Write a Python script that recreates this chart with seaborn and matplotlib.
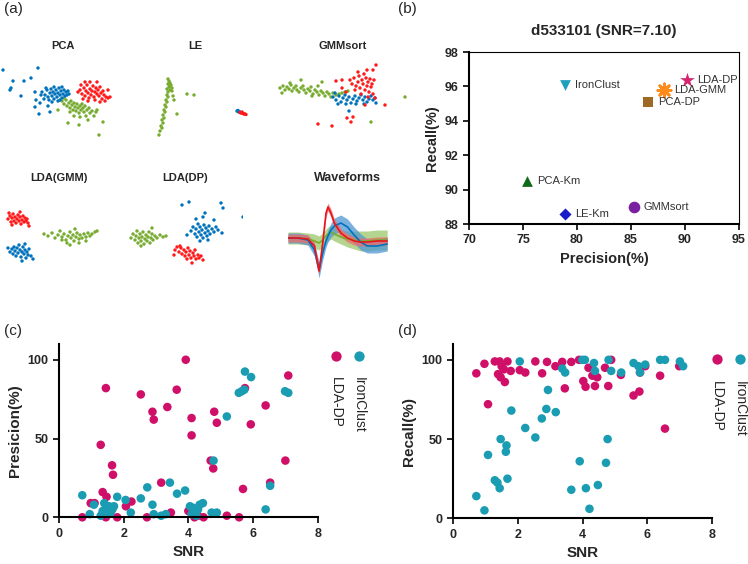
import pandas as pd
import matplotlib
matplotlib.use("Agg")
import matplotlib.pyplot as plt
import seaborn as sns

W, H = 748, 564

# ---------------- (a) feature-space clusters (reference pixel units) ----------------
pca_blue = [(42,92),(45,95),(47,90),(48,97),(50,93),(51,89),(52,96),(53,92),(54,99),(55,94),(56,90),
            (57,97),(58,93),(59,88),(60,95),(61,91),(62,98),(63,94),(64,90),(65,96),(66,92),(67,95),
            (68,91),(44,99),(49,100),(58,101),(46,88),(54,87),(62,87),(69,94),(41,95),(52,102),(60,100),
            (3,70),(38,68),(13,81),(24,81),(31,78),(10,90),(11,88),(21,96),(35,107),(39,114),(35,92),
            (50,112),(36,100),(40,103),(48,106)]
pca_red = [(80,90),(82,94),(84,88),(85,96),(86,91),(87,85),(88,93),(89,98),(90,89),(91,95),(92,91),
           (93,86),(94,97),(95,92),(96,88),(97,94),(98,90),(99,96),(100,87),(101,93),(102,99),(103,91),
           (104,95),(106,97),(108,98),(110,97),(83,99),(88,101),(95,100),(100,102),(105,101),(90,82),
           (97,82),(81,85),(78,92),(108,90),(85,82)]
pca_green = [(62,101),(64,104),(66,100),(67,106),(69,103),(70,108),(71,101),(72,105),(73,110),(74,103),
             (75,107),(76,111),(77,104),(78,108),(79,113),(80,106),(81,110),(82,104),(83,108),(84,112),
             (85,106),(87,110),(89,108),(90,113),(92,111),(94,116),(96,112),(70,112),(74,116),(80,117),
             (86,116),(68,123),(79,125),(99,135),(103,122),(58,110),(97,110),(88,120),(64,98)]

le_green = [(168,79),(169,81),(170,83),(168,84),(171,85),(169,87),(172,88),(170,90),(168,92),(167,95),
            (168,97),(166,100),(167,102),(165,105),(166,107),(164,110),(165,112),(163,115),(164,118),
            (162,120),(163,123),(161,126),(162,128),(160,131),(159,135),(170,86),(172,91),(167,89),
            (187,94),(194,95),(177,114),(173,96),(174,100)]
le_blue = [(237,111),(238,111.5),(239,112),(240,112),(238,110.5)]
le_red = [(240,112.5),(241,113),(242,113),(243,113.5),(244,114),(245,114),(246,114.5),(242,112)]

gmm_green = [(280,88),(283,86),(285,90),(287,87),(289,89),(291,85),(292,91),(294,88),(296,86),(297,90),
             (299,92),(301,88),(303,86),(304,90),(306,93),(308,89),(310,91),(311,87),(313,94),(315,90),
             (317,92),(319,95),(321,91),(323,93),(325,96),(327,92),(329,94),(331,97),(333,93),(336,95),
             (339,94),(342,93),(345,92),(348,91),(282,93),(301,80),(322,82),(405,97),(371,122),(290,83),
             (312,96),(318,86)]
gmm_blue = [(333,97),(336,100),(339,96),(341,102),(343,98),(345,95),(347,100),(349,97),(351,103),(353,99),
            (355,96),(357,101),(359,98),(361,95),(363,100),(365,97),(367,102),(369,99),(371,96),(373,100),
            (375,98),(376,103),(338,104),(346,104),(356,104),(364,104),(349,111),(335,93)]
gmm_red = [(350,80),(352,84),(354,78),(356,86),(358,82),(359,76),(360,88),(362,80),(363,84),(364,74),
           (365,90),(366,78),(367,86),(368,82),(369,92),(370,79),(371,87),(372,84),(373,94),(374,80),
           (355,90),(361,94),(368,97),(375,98),(346,92),(342,88),(376,65),(373,70),(336,81),(342,80),
           (385,105),(353,117),(347,118),(351,122),(318,124),(332,126),(365,105),(358,72),(367,70)]

ldag_red = [(8,219),(10,216),(11,222),(12,218),(13,214),(14,221),(15,217),(16,223),(17,219),(18,215),
            (19,221),(20,217),(21,224),(22,220),(23,216),(24,222),(25,218),(26,221),(27,219),(28,223),
            (9,213),(29,226),(12,225),(20,212)]
ldag_blue = [(10,252),(12,249),(13,254),(14,247),(15,251),(16,256),(17,248),(18,253),(19,245),(20,250),
             (21,257),(22,252),(23,247),(24,254),(25,250),(26,258),(27,252),(28,255),(29,249),(31,256),
             (33,259),(25,244),(8,248),(22,261)]
ldag_green = [(44,234),(48,236),(52,233),(55,238),(58,235),(60,231),(62,237),(64,234),(66,240),(68,236),
              (70,232),(71,238),(73,235),(74,241),(76,237),(77,233),(79,239),(80,235),(82,238),(84,234),
              (86,237),(88,233),(90,236),(92,234),(95,232),(97,231),(67,243),(79,243),(75,229),(62,240),
              (86,241),(70,245)]

ldad_green = [(131,238),(133,234),(135,240),(136,236),(137,231),(138,243),(139,238),(140,234),(141,241),
              (142,237),(143,232),(144,244),(145,239),(146,235),(147,241),(148,237),(149,232),(150,243),
              (151,238),(152,234),(153,240),(155,236),(157,238),(160,235),(163,237),(166,236),(152,228),
              (141,246)]
ldad_blue = [(191,231),(193,227),(195,234),(196,229),(197,237),(198,224),(199,232),(200,227),(201,235),
             (202,230),(203,238),(204,225),(205,233),(206,228),(207,236),(208,231),(209,226),(210,234),
             (212,229),(214,232),(216,227),(218,230),(222,233),(187,235),(200,241),(208,240),(182,205),
             (189,202),(221,203),(223,208),(243,217),(205,213),(203,217),(196,219),(214,220)]
ldad_red = [(175,250),(177,247),(179,252),(181,248),(182,254),(184,250),(185,256),(186,252),(188,248),
            (189,255),(190,251),(191,258),(193,253),(194,256),(195,250),(196,259),(198,255),(199,258),
            (201,256),(203,260),(174,255),(192,263),(187,259),(180,246)]

# waveforms: sample index, mean amplitude, half band width
wf_t = [0, 3, 6, 8, 9.4, 10.5, 11.5, 12.1, 13, 14, 16, 18, 20, 22, 24, 27, 30]
wf_red = [0, 0, -1, -8, -33, -5, 25, 31, 25, 15, 5, 0, -3, -4, -4, -3, -3]
wf_red_hw = [4, 4, 4, 4, 4, 4, 4, 4, 4, 4, 4, 4, 4, 4, 4, 4, 4]
wf_blue = [0, 0, -2, -12, -32, -15, -3, 2, 8, 12, 15, 11, 3, -4, -8, -8, -6]
wf_blue_hw = [5, 5, 5, 6, 8, 7, 6, 6, 7, 8, 8, 8, 8, 8, 7, 7, 7]
wf_green = [0, 0, -1, -3, -5, -2, 2, 4, 6, 4, 1, -1, -2, -3, -3, -2, -2]
wf_green_hw = [6, 6, 6, 7, 7, 7, 7, 7, 7, 7, 7, 8, 9, 10, 10, 10, 10]

# ---------------- (b) single recording ----------------
b_methods = ["LDA-DP", "LDA-GMM", "PCA-DP", "IronClust", "PCA-Km", "LE-Km", "GMMsort"]
b_precision = [90.2, 88.1, 86.6, 78.9, 75.4, 78.9, 85.3]
b_recall = [96.4, 95.8, 95.1, 96.1, 90.5, 88.6, 89.0]

# ---------------- (c) precision vs SNR ----------------
c_lda_snr = [0.72, 0.98, 1.1, 1.29, 1.35, 1.45, 1.47, 1.45, 1.64, 1.67, 1.8, 2.07, 2.24, 2.53, 2.72,
             2.89, 2.93, 3.16, 3.35, 3.46, 3.64, 3.92, 4.0, 4.1, 4.1, 4.19, 4.3, 4.47, 4.69, 4.77, 4.8,
             4.88, 5.19, 5.57, 5.69, 5.75, 5.93, 6.39, 6.53, 7.0, 7.09]
c_lda_prec = [0, 9, 9, 46, 16, 82, 13, 0, 33, 27, 0, 7, 10, 78, 0, 67, 62, 22, 70, 3, 81, 100, 4, 63,
              52, 0, 1, 0, 36, 31, 67, 60, 1, 0, 18, 82, 59, 71, 22, 36, 90]
c_iron_snr = [0.72, 0.95, 1.08, 1.29, 1.35, 1.4, 1.45, 1.5, 1.55, 1.6, 1.65, 1.7, 1.8, 2.06, 2.22,
              2.53, 2.73, 2.89, 2.93, 3.16, 3.3, 3.43, 3.65, 3.9, 4.05, 4.1, 4.15, 4.2, 4.3, 4.35, 4.45,
              4.25, 4.72, 4.78, 4.88, 5.19, 5.56, 5.65, 5.73, 5.75, 5.94, 6.39, 6.53, 6.99, 7.09]
c_iron_prec = [14, 2, 8, 1, 4, 9, 6, 2, 7, 3, 5, 7, 13, 11, 3, 12, 19, 8, 2, 1, 2, 22, 15, 17, 7, 2,
               6, 3, 5, 8, 9, 1, 3, 36, 3, 64, 79, 80, 81, 92.5, 89, 5, 20, 80, 79]

# ---------------- (d) recall vs SNR ----------------
d_lda_snr = [0.72, 0.97, 1.08, 1.29, 1.39, 1.44, 1.47, 1.5, 1.57, 1.6, 1.68, 1.78, 2.06, 2.23, 2.54,
             2.75, 2.9, 3.16, 3.37, 3.45, 3.65, 3.89, 4.02, 4.09, 4.18, 4.3, 4.38, 4.45, 4.69, 4.79,
             4.88, 5.18, 5.57, 5.75, 5.77, 5.93, 6.39, 6.54, 6.98]
d_lda_rec = [91.5, 97.5, 72, 99, 91, 99, 89, 96, 94, 86, 99, 93, 93.5, 92, 99, 91.5, 98.7, 96, 98.7,
             82, 98.7, 100, 86.6, 83, 95, 90, 83.5, 89, 95, 83.5, 100, 90.5, 77.5, 80, 92, 96, 90,
             56.6, 96]
d_iron_snr = [0.72, 0.97, 1.08, 1.29, 1.37, 1.44, 1.47, 1.65, 1.63, 1.68, 1.8, 2.06, 2.23, 2.54, 2.74,
              2.88, 2.93, 3.17, 3.37, 3.46, 3.65, 3.91, 3.99, 4.07, 4.1, 4.21, 4.35, 4.38, 4.47, 4.72,
              4.77, 4.8, 4.88, 5.19, 5.57, 5.72, 5.77, 5.93, 6.39, 6.54, 7.0, 7.1]
d_iron_rec = [14, 5, 40, 24, 22.5, 19, 50, 46, 42, 25, 68, 99, 57, 51, 63, 69, 81, 67, 94.5, 92, 18,
              36, 100, 100, 19, 6, 98, 93, 21, 35, 50, 100, 93, 92, 98, 96, 92, 97, 100, 100, 99, 96]

BLUE, RED, GREEN = "#0072BD", "#FF1A1A", "#77AC30"
PINK, CYAN = "#CF0F68", "#1A9CB3"


def px_rect(x0, y0, x1, y1):
    return [x0 / W, 1 - y1 / H, (x1 - x0) / W, (y1 - y0) / H]


def cluster_panel(fig, box, clusters, title, title_x, title_y):
    rows = []
    for name, pts in clusters.items():
        for x, y in pts:
            rows.append({"x": x, "y": y, "unit": name})
    df = pd.DataFrame(rows)
    ax = fig.add_axes(px_rect(*box))
    sns.scatterplot(data=df, x="x", y="y", hue="unit",
                    palette={"blue": BLUE, "red": RED, "green": GREEN},
                    s=6, linewidth=0, legend=False, ax=ax)
    ax.set_xlim(box[0], box[2])
    ax.set_ylim(box[3], box[1])
    ax.axis("off")
    fig.text(title_x / W, 1 - title_y / H, title, ha="center", va="baseline",
             fontsize=8, fontweight="bold")
    return ax


def snr_panel(fig, rect, lda_x, lda_y, iron_x, iron_y, ylabel, leg):
    ax = fig.add_axes(rect)
    df = pd.concat([
        pd.DataFrame({"SNR": lda_x, "val": lda_y, "method": "LDA-DP"}),
        pd.DataFrame({"SNR": iron_x, "val": iron_y, "method": "IronClust"}),
    ])
    sns.scatterplot(data=df, x="SNR", y="val", hue="method",
                    palette={"LDA-DP": PINK, "IronClust": CYAN},
                    s=38, linewidth=0, alpha=1, legend=False, clip_on=False, ax=ax)
    ax.set_xlim(0, 8)
    ax.set_ylim(0, 110)
    ax.set_xticks([0, 2, 4, 6, 8])
    ax.set_yticks([0, 50, 100])
    sns.despine(ax=ax)
    for s in ["left", "bottom"]:
        ax.spines[s].set_linewidth(1.5)
    ax.tick_params(width=1.4, length=4, labelsize=9, direction="out")
    for lab in ax.get_xticklabels() + ax.get_yticklabels():
        lab.set_fontweight("bold")
    ax.set_xlabel("SNR", fontsize=11, fontweight="bold")
    ax.set_ylabel(ylabel, fontsize=11, fontweight="bold")
    # rotated legend at the right
    (px, cx, my, ty) = leg
    ax.scatter([px], [my], transform=ax.transAxes, s=55, color=PINK, clip_on=False, linewidth=0)
    ax.scatter([cx], [my], transform=ax.transAxes, s=55, color=CYAN, clip_on=False, linewidth=0)
    ax.text(px, ty, "LDA-DP", transform=ax.transAxes, rotation=270, ha="center", va="top",
            fontsize=10)
    ax.text(cx, ty, "IronClust", transform=ax.transAxes, rotation=270, ha="center", va="top",
            fontsize=10)
    return ax


def main():
    sns.set_style("ticks")
    plt.rcParams["font.family"] = ["Liberation Sans", "DejaVu Sans"]
    plt.rcParams["axes.edgecolor"] = "black"

    fig = plt.figure(figsize=(W / 100, H / 100), dpi=100)

    # panel (a)
    cluster_panel(fig, (0, 62, 126, 140), {"green": pca_green, "blue": pca_blue, "red": pca_red},
                  "PCA", 63, 49)
    cluster_panel(fig, (140, 62, 250, 140), {"green": le_green, "blue": le_blue, "red": le_red},
                  "LE", 195, 49)
    cluster_panel(fig, (276, 58, 410, 132), {"green": gmm_green, "blue": gmm_blue, "red": gmm_red},
                  "GMMsort", 343, 49)
    cluster_panel(fig, (6, 205, 112, 268), {"green": ldag_green, "blue": ldag_blue, "red": ldag_red},
                  "LDA(GMM)", 59, 181)
    cluster_panel(fig, (128, 198, 243, 268), {"green": ldad_green, "blue": ldad_blue, "red": ldad_red},
                  "LDA(DP)", 185, 181)

    axw = fig.add_axes(px_rect(288, 195, 407, 280))
    wf = [(wf_green, wf_green_hw, GREEN, "#9BC86A"),
          (wf_blue, wf_blue_hw, BLUE, "#4F97D4"),
          (wf_red, wf_red_hw, "#E8141C", "#F06A6A")]
    for mean, hw, lc, fc in wf:
        lo = [m - h for m, h in zip(mean, hw)]
        hi = [m + h for m, h in zip(mean, hw)]
        axw.fill_between(wf_t, lo, hi, color=fc, alpha=0.75, linewidth=0)
        sns.lineplot(x=wf_t, y=mean, color=lc, linewidth=1.2, ax=axw)
    axw.set_xlim(0, 36)
    axw.set_ylim(-42, 43)
    axw.axis("off")
    fig.text(347 / W, 1 - 181 / H, "Waveforms", ha="center", va="baseline",
             fontsize=9, fontweight="bold")

    # panel (b)
    axb = fig.add_axes(px_rect(469, 52, 739, 224))
    styles = {
        "LDA-DP": ("*", "#D6246E", 120),
        "PCA-DP": ("s", "#9C6A22", 60),
        "IronClust": ("v", "#1F9FC0", 60),
        "PCA-Km": ("^", "#0F6B1A", 60),
        "LE-Km": ("D", "#1A1AC8", 38),
        "GMMsort": ("o", "#7B1FA2", 70),
    }
    for m, px, rc in zip(b_methods, b_precision, b_recall):
        if m == "LDA-GMM":
            axb.scatter([px], [rc], marker=(8, 2, 0), s=90, color="#FF8C1A", linewidths=2,
                        zorder=3)
        else:
            mk, col, sz = styles[m]
            sns.scatterplot(x=[px], y=[rc], marker=mk, color=col, s=sz, linewidth=0,
                            legend=False, ax=axb, zorder=3)
        axb.annotate(m, (px, rc), xytext=(7, 0), textcoords="offset points", va="center",
                     ha="left", fontsize=8, color="#333333")
    axb.set_xlim(70, 95)
    axb.set_ylim(88, 98)
    axb.set_xticks([70, 75, 80, 85, 90, 95])
    axb.set_yticks([88, 90, 92, 94, 96, 98])
    for s in ["left", "bottom"]:
        axb.spines[s].set_linewidth(1.5)
    for s in ["top", "right"]:
        axb.spines[s].set_linewidth(0.8)
    axb.tick_params(width=1.4, length=4, labelsize=9)
    for lab in axb.get_xticklabels() + axb.get_yticklabels():
        lab.set_fontweight("bold")
    axb.set_xlabel("Precision(%)", fontsize=10.5, fontweight="bold")
    axb.set_ylabel("Recall(%)", fontsize=10.5, fontweight="bold")
    axb.set_title("d533101 (SNR=7.10)", fontsize=11, fontweight="bold", pad=12)

    # panels (c) and (d)
    snr_panel(fig, px_rect(59, 344, 317.7, 517.3), c_lda_snr, c_lda_prec, c_iron_snr, c_iron_prec,
              "Presicion(%)", (1.069, 1.158, 0.931, 0.81))
    snr_panel(fig, px_rect(453, 344, 712.3, 518.3), d_lda_snr, d_lda_rec, d_iron_snr, d_iron_rec,
              "Recall(%)", (1.017, 1.107, 0.912, 0.79))

    for lab, x, y in [("(a)", 4, 2), ("(b)", 398, 2), ("(c)", 4, 324), ("(d)", 398, 324)]:
        fig.text(x / W, 1 - y / H, lab, ha="left", va="top", fontsize=11)

    fig.savefig("out.png", dpi=100)
    print("Grafico salvo: 'out.png'")


if __name__ == "__main__":
    main()
